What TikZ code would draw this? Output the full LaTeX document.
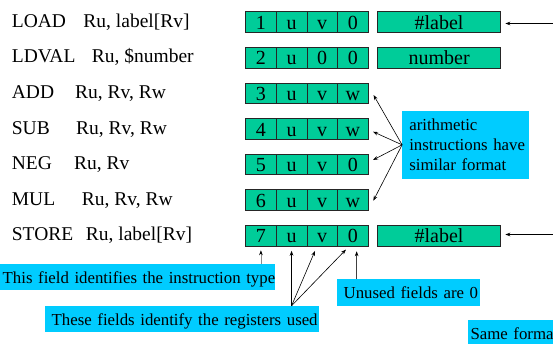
\documentclass[tikz,border=0pt]{standalone}
\usepackage{fontspec}
\setmainfont{Liberation Serif}
\usetikzlibrary{arrows.meta,calc}
\definecolor{instgreen}{RGB}{0,204,153}
\definecolor{notecyan}{RGB}{0,204,255}
\begin{document}
\begin{tikzpicture}[x=1pt,y=-1pt,
  cell/.style={draw=black!85, line width=0.7pt, fill=instgreen, minimum width=30.65pt, minimum height=20.6pt, inner sep=0pt, font=\fontsize{20}{24}\selectfont, text height=14.6pt, text depth=0pt},
  labelbox/.style={cell, minimum width=122.8pt},
  opcode/.style={anchor=base west, inner sep=0pt, font=\fontsize{19.5}{23}\selectfont},
  note/.style={fill=notecyan, inner ysep=0pt, font=\fontsize{16.8}{20}\selectfont, align=left},
  oneline/.style={note, text height=12.6pt, text depth=0pt},
  arr/.style={-{Stealth[length=5pt,width=3.6pt,color=black]}, line width=0.6pt, black},
]
\useasboundingbox (0,0) rectangle (553,344);
\clip (0,0) rectangle (553,344);

% instruction formats
\foreach \r/\y/\a/\b/\c/\d in {1/22/1/u/v/0, 2/57.6/2/u/0/0, 3/93.2/3/u/v/w, 4/128.8/4/u/v/w, 5/164.4/5/u/v/0, 6/200/6/u/v/w, 7/235.6/7/u/v/0}{
  \node[cell] (c\r1) at (260.9,\y) {\a};
  \node[cell] (c\r2) at (291.55,\y) {\b};
  \node[cell] (c\r3) at (322.2,\y) {\c};
  \node[cell] (c\r4) at (352.85,\y) {\d};
}
\node[labelbox] (L1) at (439.1,22) {\#label};
\node[labelbox] (L2) at (439.1,57.6) {number};
\node[labelbox] (L7) at (439.1,235.6) {\#label};

% mnemonics
\node[opcode] (op1) at (11.7,27.3) {\makebox[71.6pt][l]{LOAD}Ru, label[Rv]};
\node[opcode] (op2) at (11.7,62.9) {\makebox[80pt][l]{LDVAL}Ru, \$number};
\node[opcode] (op3) at (11.7,98.5) {\makebox[63.3pt][l]{ADD}Ru, Rv, Rw};
\node[opcode] (op4) at (11.7,134.1) {\makebox[64.3pt][l]{SUB}Ru, Rv, Rw};
\node[opcode] (op5) at (11.7,169.7) {\makebox[62.3pt][l]{NEG}Ru, Rv};
\node[opcode] (op6) at (11.7,205.3) {\makebox[70pt][l]{MUL}Ru, Rv, Rw};
\node[opcode] (op7) at (11.7,240.9) {\makebox[74pt][l]{STORE}Ru, label[Rv]};

% notes
\node[note, minimum width=127pt, minimum height=67.7pt, text width=113pt, inner xsep=7pt] (arith) at (465.8,144.85) {\mbox{arithmetic}\\\mbox{instructions have}\\\mbox{similar format}};
\node[oneline, minimum width=275pt, minimum height=26pt, inner xsep=2.7pt, text width=269.6pt] (typebox) at (137.5,277) {\mbox{This field identifies the instruction type}};
\node[oneline, minimum width=274pt, minimum height=26.3pt, inner xsep=6.7pt, text width=260.6pt] (regbox) at (182,319.15) {\mbox{These fields identify the registers used}};
\node[oneline, minimum width=143.3pt, minimum height=26.4pt, inner xsep=7pt, text width=129.3pt] (unused) at (408.35,292.5) {\mbox{Unused fields are 0}};
\node[oneline, minimum width=100pt, minimum height=26.4pt, inner xsep=2.5pt, text width=95pt] (same) at (518,333.2) {\mbox{Same forma}};

% arrows from the right edge
\coordinate (in1) at (553,23.5);
\coordinate (in7) at (553,234.5);
\draw[arr, shorten >=4.5pt] (in1) -- (in1 -| L1.east);
\draw[arr, shorten >=4.5pt] (in7) -- (in7 -| L7.east);

% arithmetic arrows
\draw[arr] (arith.west) -- ([shift={(5,1.8)}]c34.east);
\draw[arr] (arith.west) -- ([shift={(4.5,2.9)}]c44.east);
\draw[arr] (arith.west) -- ([shift={(4.5,-4.4)}]c54.east);
\draw[arr] (arith.west) -- ([shift={(4.8,0.7)}]c64.east);

% bottom arrows
\draw[arr, draw=black!45, shorten >=4pt] (c71.south |- typebox.north) -- (c71.south);
\draw[arr, shorten >=4.5pt] (c72.south |- regbox.north) -- (c72.south);
\draw[arr] (c72.south |- regbox.north) -- ([shift={(-7.2,4.7)}]c73.south);
\draw[arr] (c72.south |- regbox.north) -- ([shift={(-6.9,3.3)}]c74.south);
\draw[arr, draw=black!75, shorten >=5pt] ([xshift=3.8pt]c74.south |- unused.north) -- ([xshift=3.8pt]c74.south);
\end{tikzpicture}
\end{document}
